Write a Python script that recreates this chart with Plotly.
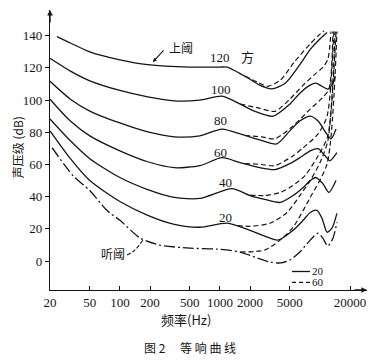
import math
import plotly.graph_objects as go

# ---------------- data: frequency (Hz) / sound pressure level (dB) ----------------
# solid = age 20, dashed = age 60
l120_f  = [23.5, 32, 50, 100, 190, 500, 1000, 1180, 2000, 2500, 3300, 4500, 6300, 8000, 10000, 11800]
l120_db = [139.5, 135.5, 130, 125, 122, 120.5, 120.5, 120.5, 113, 109.3, 107, 110.5, 122, 131.5, 138, 142]
l120o_f  = [1780, 2400, 3000, 4000, 5600, 8000, 9600, 11000]
l120o_db = [115, 111, 108.6, 112.3, 124, 135, 140, 143]

l100_f  = [20, 32, 50, 100, 190, 350, 630, 1050, 1600, 2250, 3400, 5000, 6300, 8000, 9100, 10500, 12000, 13500, 14200]
l100_db = [126, 118, 112, 106, 102, 99.5, 100, 102.5, 97.5, 93, 90, 97.5, 104.3, 109.3, 110.5, 108.6, 106.8, 110.5, 115]
l100o_f  = [1600, 2400, 3550, 5000, 6800, 8900, 10700, 12000, 12900]
l100o_db = [97.5, 95.2, 93, 100.6, 109.3, 116, 120.4, 125.3, 142.6]

l80_f  = [20, 32, 50, 100, 190, 350, 630, 1050, 1600, 2500, 3700, 5000, 6300, 8000, 9600, 11500, 12900, 14500]
l80_db = [111.7, 100.6, 93.2, 85.8, 80.2, 77.2, 77.8, 82, 79, 75.3, 72.8, 80.9, 87, 90.1, 87, 79.6, 75.9, 82]
l80o_f  = [1780, 2600, 3550, 5400, 8000, 10500, 12300, 13500]
l80o_db = [78, 77.2, 76, 84, 94.4, 101.2, 106.8, 142.6]

l60_f  = [20, 32, 50, 100, 190, 350, 630, 1050, 1600, 2500, 3550, 5000, 6300, 8000, 9600, 11250, 12600, 14800]
l60_db = [100.6, 87, 77.8, 68.5, 61.7, 58, 59.3, 64.2, 61.1, 58, 56.8, 60.5, 64.2, 68.5, 69.8, 65.4, 62.3, 67.3]
l60o_f  = [1780, 2600, 3550, 5400, 6800, 9600, 11800, 13800]
l60o_db = [60.6, 60, 59.3, 65.4, 70.4, 79, 90.1, 142.6]

l40_f  = [20, 32, 50, 100, 190, 350, 630, 1320, 2000, 2800, 4000, 5400, 6800, 8000, 9100, 10700, 12300, 14500]
l40_db = [88.3, 74.7, 63.6, 51.9, 44.4, 39.5, 38.9, 45, 40.7, 38.3, 36.4, 40.7, 45.7, 50, 51.9, 48.1, 42.6, 50]
l40o_f  = [2000, 2800, 4000, 5400, 7100, 9600, 12000, 14200]
l40o_db = [41, 40.7, 42.6, 47, 53.1, 65.4, 77.8, 142.6]

l20_f  = [20, 32, 50, 100, 190, 350, 630, 1180, 2000, 2800, 3800, 5400, 6800, 8000, 9350, 10500, 11800, 13200, 14800]
l20_db = [80.9, 63.6, 50, 37, 28.4, 22.8, 21, 23.5, 19.1, 15.5, 13, 19.1, 25.3, 30.2, 31.5, 26.5, 17.9, 20.4, 29.6]
l20o_f  = [1500, 2000, 3170, 4700, 6300, 8000, 10000, 12000, 14500]
l20o_db = [22, 21.6, 23.5, 30.2, 40.7, 50, 61, 74.7, 142.6]

thr_f  = [21, 34, 50, 74, 100, 160, 250, 500, 940, 1600, 2350, 3170, 4000, 5000, 6300, 8000, 9600, 10700, 12000, 13500, 14800]
thr_db = [70.4, 53, 43.8, 31.5, 25.3, 14.2, 9.9, 8, 7.4, 5.6, 1.9, -0.6, -1.2, 0.6, 5.6, 13, 17.3, 14.2, 9.3, 14.2, 24]
thro_f  = [1600, 2800, 4000, 5400, 8000, 11800, 14800]
thro_db = [5.6, 6.8, 13, 21, 39.5, 60.5, 142.6]

x_ticks = [20, 50, 100, 200, 500, 1000, 2000, 5000, 20000]
x_tick_text = ["20", "50", "100", "200", "500", "1000", "2000", "5000", "20000"]
y_ticks = [0, 20, 40, 60, 80, 100, 120, 140]

legend_f = [5260, 7960]
legend_solid_db = [-6.5, -6.5]
legend_dash_db = [-13.2, -13.2]

leader_f = [118, 141, 170]
leader_db = [3.7, 6.8, 13]

INK = "#151515"
CJK = "Noto Sans CJK SC"
SERIF = "Liberation Serif"

fig = go.Figure()

def add(fx, fy, dash=None, width=1.3):
    fig.add_trace(go.Scatter(
        x=fx, y=fy, mode="lines",
        line=dict(color=INK, width=width, dash=dash, shape="spline", smoothing=0.7),
        showlegend=False, hoverinfo="skip"))

DASH = "5px,3px"
DASHDOT = "11px,3px,2px,3px"

for sf, sd, of, od in [(l120_f, l120_db, l120o_f, l120o_db),
                       (l100_f, l100_db, l100o_f, l100o_db),
                       (l80_f, l80_db, l80o_f, l80o_db),
                       (l60_f, l60_db, l60o_f, l60o_db),
                       (l40_f, l40_db, l40o_f, l40o_db),
                       (l20_f, l20_db, l20o_f, l20o_db)]:
    add(sf, sd)
    add(of, od, dash=DASH, width=1.2)

add(thr_f, thr_db, dash=DASHDOT)
add(thro_f, thro_db, dash=DASH, width=1.2)

# legend samples
fig.add_trace(go.Scatter(x=legend_f, y=legend_solid_db, mode="lines",
                         line=dict(color=INK, width=1.3), showlegend=False, hoverinfo="skip"))
fig.add_trace(go.Scatter(x=legend_f, y=legend_dash_db, mode="lines",
                         line=dict(color=INK, width=1.2, dash="4px,3px"), showlegend=False, hoverinfo="skip"))
# leader for 听阈
fig.add_trace(go.Scatter(x=leader_f, y=leader_db, mode="lines",
                         line=dict(color=INK, width=1.1, dash="4px,2px", shape="spline"),
                         showlegend=False, hoverinfo="skip"))

L = math.log10
ann = []
def txt(f, db, s, size=13, font=SERIF):
    ann.append(dict(x=L(f), y=db, xref="x", yref="y", text=s, showarrow=False,
                    font=dict(family=font, size=size, color=INK), xanchor="center", yanchor="middle"))

txt(1000, 126.2, "120")
txt(1870, 126.8, "方", size=13, font=CJK)
txt(1025, 106.3, "100")
txt(1025, 87.6, "80")
txt(1025, 67.7, "60")
txt(1125, 49.1, "40")
txt(1150, 27.3, "20")
txt(405, 133, "上阈", size=12, font=CJK)
txt(85, 4.4, "听阈", size=12, font=CJK)
txt(9570, -6.5, "20", size=11)
txt(9570, -13.2, "60", size=11)

# arrow for 上阈
ann.append(dict(x=L(214), y=123.7, xref="x", yref="y", ax=12, ay=-13,
                showarrow=True, arrowhead=2, arrowsize=0.7, arrowwidth=1.1, arrowcolor=INK, text=""))
# axis arrows
ann.append(dict(x=L(20), y=156, xref="x", yref="y", ax=0, ay=14,
                showarrow=True, arrowhead=2, arrowsize=0.8, arrowwidth=1.4, arrowcolor=INK, text=""))
ann.append(dict(x=L(29580), y=-18, xref="x", yref="y", ax=-14, ay=0,
                showarrow=True, arrowhead=2, arrowsize=0.8, arrowwidth=1.4, arrowcolor=INK, text=""))

# titles
ann.append(dict(x=-0.104, y=0.51, xref="paper", yref="paper", text="声压级 (dB)", textangle=-90,
                xanchor="center", yanchor="middle",
                showarrow=False, font=dict(family=CJK, size=12, color=INK)))
ann.append(dict(x=0.43, y=-0.107, xref="paper", yref="paper", text="频率(Hz)",
                xanchor="center", yanchor="middle",
                showarrow=False, font=dict(family=CJK, size=13, color=INK)))
ann.append(dict(x=0.442, y=-0.204, xref="paper", yref="paper", text="图 2　 等 响 曲 线",
                xanchor="center", yanchor="middle",
                showarrow=False, font=dict(family=CJK, size=12, color=INK)))

# page body has an 8px margin, so the figure is sized / offset to compensate
fig.update_layout(
    width=363, height=347,
    margin=dict(l=42, r=4, t=2, b=65),
    paper_bgcolor="white", plot_bgcolor="white",
    annotations=ann,
    xaxis=dict(type="log", range=[L(20), L(29580)], tickvals=x_ticks, ticktext=x_tick_text,
               showgrid=False, zeroline=False, showline=True, linecolor=INK, linewidth=1.4,
               ticks="inside", ticklen=4, tickcolor=INK, tickwidth=1.2,
               tickfont=dict(family=SERIF, size=13, color=INK), fixedrange=True),
    yaxis=dict(range=[-18, 156], tickvals=y_ticks, showgrid=False, zeroline=False,
               showline=True, linecolor=INK, linewidth=1.4,
               ticks="outside", ticklen=4, tickcolor=INK, tickwidth=1.2,
               tickfont=dict(family=SERIF, size=13, color=INK), fixedrange=True),
)

fig.write_html("out.html")
